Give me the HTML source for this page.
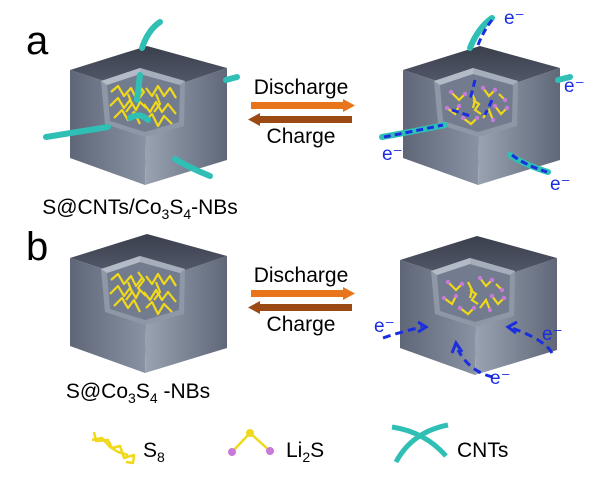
<!DOCTYPE html>
<html><head><meta charset="utf-8"><style>
html,body{margin:0;padding:0;background:#fff;}
svg{display:block;font-family:"Liberation Sans",Arial,sans-serif;}
</style></head><body>
<svg width="600" height="482" viewBox="0 0 600 482" xmlns="http://www.w3.org/2000/svg">
<defs>
<linearGradient id="gl" x1="0" y1="0" x2="1" y2="0"><stop offset="0" stop-color="#5e6678"/><stop offset="1" stop-color="#8a93a3"/></linearGradient>
<linearGradient id="gr" x1="0" y1="0" x2="1" y2="0"><stop offset="0" stop-color="#9aa3b2"/><stop offset="1" stop-color="#5f6778"/></linearGradient>
<linearGradient id="gt" x1="0" y1="0" x2="0" y2="1"><stop offset="0" stop-color="#3a3f4c"/><stop offset="1" stop-color="#596072"/></linearGradient>
<g id="cube">
  <polygon points="70,70 147,95 145,185 70,158" fill="url(#gl)"/>
  <polygon points="147,95 227,68 227,160 145,185" fill="url(#gr)"/>
  <polygon points="70,70 147,46 227,68 147,95" fill="url(#gt)"/>
  <polygon points="101,81 140,68 185,81 184,126 145,137 105,124" fill="#8e97a6"/>
  <polygon points="107,85 140,74 180,85 179,122 145,132 110,121" fill="#737c8e"/>
  <polygon points="140,68 140,74 107,85 101,81" fill="#b3bbc6"/>
  <polygon points="140,68 185,81 180,85 140,74" fill="#a6aebb"/>
</g>
<g id="s8" fill="none" stroke="#f0d81a" stroke-width="2.2" stroke-linejoin="round">
  <polyline points="111,92 118,86 124,96 131,88 136,98 142,90"/>
  <polyline points="146,88 152,96 158,86 164,96 170,88 176,98"/>
  <polyline points="110,106 118,98 124,108 130,100 136,110 140,102"/>
  <polyline points="144,104 150,112 156,102 162,112 168,104 176,114"/>
  <polyline points="114,118 122,110 128,120 134,112 140,124"/>
  <polyline points="146,120 152,114 158,126 164,116 172,124"/>
  <polyline points="128,94 132,104 126,112"/>
  <polyline points="156,94 160,104 154,112"/>
  <polyline points="138,84 144,92 138,100 146,108"/>
</g>
<g id="li" stroke-width="2.2">
  <g stroke="#f0d81a" fill="none">
  <polyline points="118,92 126,100 132,94"/><polyline points="150,88 156,96 162,90"/>
  <polyline points="114,108 122,114 126,106"/><polyline points="162,106 168,114 174,108"/>
  <polyline points="130,118 138,124 144,118"/><polyline points="150,118 156,110 160,120"/>
  <polyline points="138,92 142,100 140,108"/><polyline points="166,94 172,100"/>
  </g>
  <g fill="#c77ad8">
  <circle cx="118" cy="92" r="2.2"/><circle cx="132" cy="94" r="2.2"/><circle cx="150" cy="88" r="2.2"/><circle cx="162" cy="90" r="2.2"/>
  <circle cx="114" cy="108" r="2.2"/><circle cx="126" cy="106" r="2.2"/><circle cx="162" cy="106" r="2.2"/><circle cx="174" cy="108" r="2.2"/>
  <circle cx="130" cy="118" r="2.2"/><circle cx="144" cy="118" r="2.2"/><circle cx="160" cy="120" r="2.2"/><circle cx="172" cy="100" r="2.2"/>
  </g>
  <g fill="none" stroke="#f0d81a"><polyline points="140,100 146,104 142,110 148,114"/></g>
</g>
</defs>

<text x="26" y="54" font-size="40">a</text>
<text x="26" y="260" font-size="40">b</text>

<!-- top-left -->
<use href="#cube"/>
<use href="#s8"/>
<g fill="none" stroke="#2fbfb5" stroke-width="6" stroke-linecap="round">
  <path d="M142,48 Q148,30 160,22"/>
  <path d="M46,137 Q70,133 108,127"/>
  <path d="M175,159 Q190,168 210,176"/>
  <path d="M226,80 L237,77"/>
  <path d="M130,118 Q140,112 148,120"/>
  <path d="M140,75 L137,100"/>
</g>
<text x="140" y="214" font-size="21" text-anchor="middle">S@CNTs/Co<tspan font-size="14" dy="5">3</tspan><tspan dy="-5">S</tspan><tspan font-size="14" dy="5">4</tspan><tspan dy="-5">-NBs</tspan></text>

<!-- arrows top -->
<text x="301" y="94" font-size="21" text-anchor="middle">Discharge</text>
<rect x="251" y="102" width="94" height="7" fill="#e8741c"/><polygon points="343,99 355,105.5 343,112" fill="#e8741c"/>
<rect x="258" y="116" width="94" height="7" fill="#9b4a14"/><polygon points="260,113 248,119.5 260,126" fill="#9b4a14"/>
<text x="301" y="143" font-size="21" text-anchor="middle">Charge</text>

<!-- top-right -->
<g transform="translate(333,0)"><use href="#cube"/><use href="#li"/></g>
<g fill="none" stroke="#2fbfb5" stroke-width="6" stroke-linecap="round">
  <path d="M470,48 Q478,28 492,18"/>
  <path d="M382,137 Q410,132 445,125"/>
  <path d="M510,155 Q525,165 548,172"/>
  <path d="M558,80 L570,77"/>
</g>
<g fill="none" stroke="#1a2ee0" stroke-width="3" stroke-dasharray="7,4">
  <path d="M478,45 Q484,30 492,20"/><path d="M384,137 Q410,132 443,125"/><path d="M512,155 Q525,165 547,172"/>
  <path d="M475,80 L470,100"/><path d="M452,110 L470,116"/><path d="M492,100 L485,115"/>
</g>
<g fill="#1a2ee0" font-size="19">
<text x="504" y="24">e⁻</text><text x="564" y="92">e⁻</text><text x="382" y="160">e⁻</text><text x="550" y="190">e⁻</text>
</g>

<!-- bottom-left -->
<g transform="translate(0,188)"><use href="#cube"/><use href="#s8"/></g>
<text x="138" y="398" font-size="21" text-anchor="middle">S@Co<tspan font-size="14" dy="5">3</tspan><tspan dy="-5">S</tspan><tspan font-size="14" dy="5">4</tspan><tspan dy="-5"> -NBs</tspan></text>

<!-- arrows bottom -->
<text x="301" y="282" font-size="21" text-anchor="middle">Discharge</text>
<rect x="251" y="290" width="94" height="7" fill="#e8741c"/><polygon points="343,287 355,293.5 343,300" fill="#e8741c"/>
<rect x="258" y="304" width="94" height="7" fill="#9b4a14"/><polygon points="260,301 248,307.5 260,314" fill="#9b4a14"/>
<text x="301" y="331" font-size="21" text-anchor="middle">Charge</text>

<!-- bottom-right -->
<g transform="translate(330,190)"><use href="#cube"/><use href="#li"/></g>
<g fill="none" stroke="#1a2ee0" stroke-width="3" stroke-dasharray="8,5">
  <path d="M383,338 Q400,332 422,327"/>
  <path d="M552,353 Q545,340 512,328"/>
  <path d="M493,377 Q470,372 458,350"/>
</g>
<g fill="none" stroke="#1a2ee0" stroke-width="3">
  <polyline points="418,322 426,327 418,332"/>
  <polyline points="517,322 508,327 516,333"/>
  <polyline points="452,353 456,343 462,352"/>
</g>
<g fill="#1a2ee0" font-size="19">
<text x="374" y="332">e⁻</text><text x="542" y="340">e⁻</text><text x="490" y="384">e⁻</text>
</g>

<!-- legend -->
<g fill="none" stroke="#f0d81a" stroke-width="2.5" stroke-linejoin="round">
  <polyline points="94,432 96,441 108,440 112,448 120,446 124,458 134,455 133,463 126,462"/>
  <polyline points="92,440 102,438 110,447 118,452 128,455"/>
</g>
<text x="143" y="457" font-size="21">S<tspan font-size="14" dy="5">8</tspan></text>
<polyline points="232,452 250,433 270,451" fill="none" stroke="#f0d81a" stroke-width="2.5"/>
<circle cx="232" cy="452" r="4" fill="#c77ad8"/><circle cx="270" cy="451" r="4" fill="#c77ad8"/><circle cx="250" cy="433" r="4" fill="#f0d81a"/>
<text x="286" y="457" font-size="21">Li<tspan font-size="14" dy="5">2</tspan><tspan dy="-5">S</tspan></text>
<g fill="none" stroke="#2fbfb5" stroke-width="5">
  <path d="M392,427 Q425,432 446,456"/>
  <path d="M396,462 Q412,432 448,425"/>
</g>
<text x="457" y="457" font-size="21">CNTs</text>
</svg>
</body></html>
